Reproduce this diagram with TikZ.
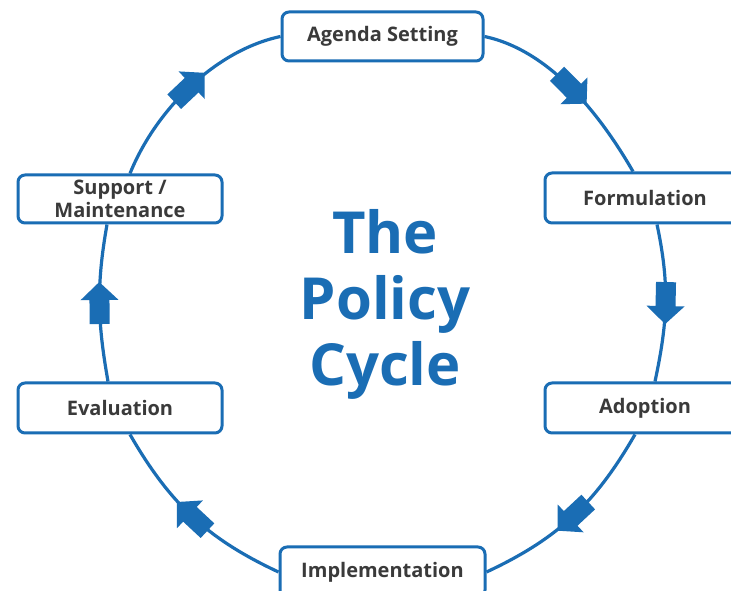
\documentclass[tikz,border=0pt]{standalone}
\usepackage{fontspec}
\setmainfont{Open Sans}
\usetikzlibrary{decorations.markings}
\definecolor{pblue}{HTML}{1A6DB4}
\definecolor{ptext}{HTML}{3A3A3A}
\tikzset{
  stage/.style={draw=pblue, line width=3pt, rounded corners=7pt, fill=white,
    text=ptext, font=\bfseries\fontsize{20}{23}\selectfont, align=center, inner sep=0pt},
  cyc/.style={draw=pblue, line width=3.2pt, postaction={decorate},
    decoration={markings, mark=at position 0.5 with {
      \fill[pblue] (-21pt,-10pt) -- (3pt,-10pt) -- (3pt,-19pt) -- (21pt,0pt)
        -- (3pt,19pt) -- (3pt,10pt) -- (-21pt,10pt) -- cycle;}}}
}
\begin{document}
\begin{tikzpicture}[x=1pt,y=1pt]
\useasboundingbox (0,0) rectangle (731,591);
\fill[white] (0,0) rectangle (731,591);
\node[stage, minimum width=201pt, minimum height=49pt] (agenda) at (382.5,554.5) {Agenda Setting};
\node[stage, minimum width=200pt, minimum height=50pt] (formulation) at (645,393) {Formulation};
\node[stage, minimum width=200pt, minimum height=50pt] (adoption) at (645,183) {Adoption};
\node[stage, minimum width=205pt, minimum height=50pt] (implementation) at (382.5,19) {Implementation};
\node[stage, minimum width=204pt, minimum height=50pt] (evaluation) at (120,183) {Evaluation};
\node[stage, minimum width=204pt, minimum height=48pt] (support) at (120,392) {Support /\\Maintenance};
\node[text=pblue, font=\bfseries\fontsize{58}{66}\selectfont, align=center, inner sep=0pt] (title) at (385,287) {The\\Policy\\Cycle};
\draw[cyc] (agenda.east) to[out=-12,in=120,looseness=0.85] ([xshift=-12pt]formulation.north);
\draw[cyc] ([xshift=12pt]formulation.south) to[out=-78,in=78] ([xshift=10pt]adoption.north);
\draw[cyc] ([xshift=-10pt]adoption.south) to[out=-120,in=25] (implementation.east);
\draw[cyc] (implementation.west) to[out=155,in=-60] ([xshift=10pt]evaluation.south);
\draw[cyc] ([xshift=-12pt]evaluation.north) to[out=100,in=-100] ([xshift=-13pt]support.south);
\draw[cyc] ([xshift=10pt]support.north) to[out=68,in=192,looseness=0.85] (agenda.west);
\end{tikzpicture}
\end{document}
